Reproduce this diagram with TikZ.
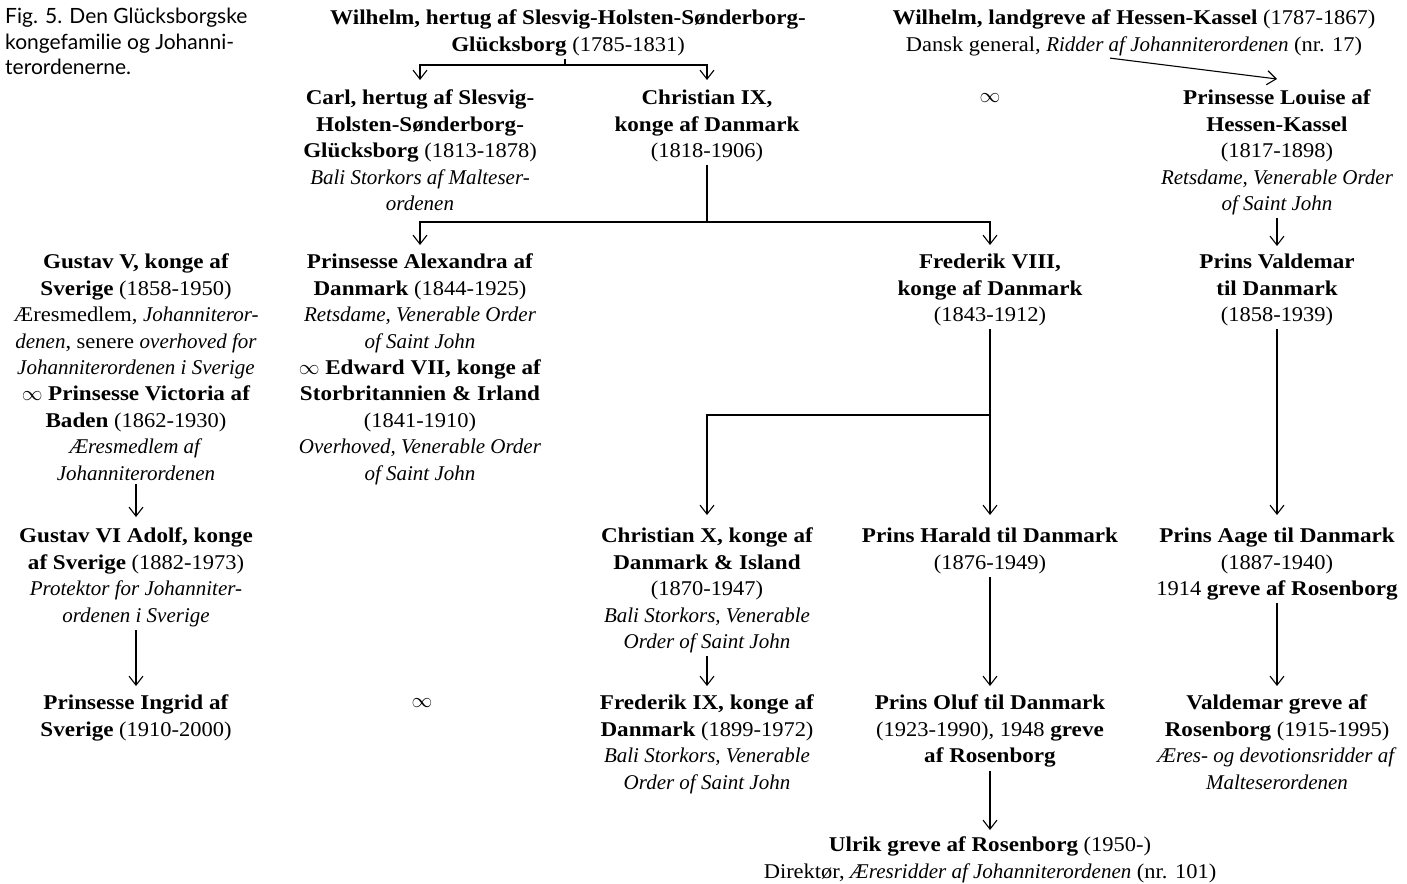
\documentclass[tikz,border=0pt]{standalone}
\usepackage{fontspec}
\setmainfont{Liberation Serif}[UprightFeatures={FakeStretch=1.07}, BoldFeatures={FakeStretch=1.1}]
\newfontfamily\capfont{Lato}
\usetikzlibrary{arrows.meta}
\begin{document}
\begin{tikzpicture}[x=1pt,y=-1pt,
  person/.style={align=center, inner sep=0pt, anchor=north, font=\fontsize{21}{26.4}\selectfont},
  caption/.style={align=left, inner sep=0pt, anchor=north west, font=\capfont\fontsize{21}{25.5}\selectfont},
  link/.style={line width=1.1pt, shorten <=3pt},
  arr/.style={line width=1.1pt, -{Straight Barb[length=9pt,width=14pt,line width=1.1pt]}, shorten >=9pt},
  arrs/.style={arr, shorten <=3pt},
  marr/.style={font=\fontsize{21}{26.4}\selectfont, inner sep=0pt},
]
\useasboundingbox (0,0) rectangle (1407,883);

\node[caption] (cap) at (5,8) {Fig. 5. Den Glücksborgske\\kongefamilie og Johanni-\\terordenerne.};

\node[person] (W1) at (568,10) {\textbf{Wilhelm, hertug af Slesvig-Holsten-Sønderborg-}\\\textbf{Glücksborg} (1785-1831)};
\node[person] (W2) at (1134,10) {\textbf{Wilhelm, landgreve af Hessen-Kassel} (1787-1867)\\Dansk general, \textit{Ridder af Johanniterordenen} (nr. 17)};

\node[person] (Carl) at (420,90) {\textbf{Carl, hertug af Slesvig-}\\\textbf{Holsten-Sønderborg-}\\\textbf{Glücksborg} (1813-1878)\\\textit{Bali Storkors af Malteser-}\\\textit{ordenen}};
\node[person] (C9) at (707,90) {\textbf{Christian IX,}\\\textbf{konge af Danmark}\\(1818-1906)};
\node[marr] (m1) at (990,98) {$\infty$};
\node[person] (Louise) at (1277,90) {\textbf{Prinsesse Louise af}\\\textbf{Hessen-Kassel}\\(1817-1898)\\\textit{Retsdame, Venerable Order}\\\textit{of Saint John}};

\node[person] (G5) at (136,254) {\textbf{Gustav V, konge af}\\\textbf{Sverige} (1858-1950)\\Æresmedlem, \textit{Johanniteror-}\\\textit{denen}, senere \textit{overhoved for}\\\textit{Johanniterordenen i Sverige}\\$\infty$ \textbf{Prinsesse Victoria af}\\\textbf{Baden} (1862-1930)\\\textit{Æresmedlem af}\\\textit{Johanniterordenen}};
\node[person] (Alex) at (420,254) {\textbf{Prinsesse Alexandra af}\\\textbf{Danmark} (1844-1925)\\\textit{Retsdame, Venerable Order}\\\textit{of Saint John}\\$\infty$ \textbf{Edward VII, konge af}\\\textbf{Storbritannien \& Irland}\\(1841-1910)\\\textit{Overhoved, Venerable Order}\\\textit{of Saint John}};
\node[person] (F8) at (990,254) {\textbf{Frederik VIII,}\\\textbf{konge af Danmark}\\(1843-1912)};
\node[person] (Vald) at (1277,254) {\textbf{Prins Valdemar}\\\textbf{til Danmark}\\(1858-1939)};

\node[person] (G6) at (136,528) {\textbf{Gustav VI Adolf, konge}\\\textbf{af Sverige} (1882-1973)\\\textit{Protektor for Johanniter-}\\\textit{ordenen i Sverige}};
\node[person] (C10) at (707,528) {\textbf{Christian X, konge af}\\\textbf{Danmark \& Island}\\(1870-1947)\\\textit{Bali Storkors, Venerable}\\\textit{Order of Saint John}};
\node[person] (Harald) at (990,528) {\textbf{Prins Harald til Danmark}\\(1876-1949)};
\node[person] (Aage) at (1277,528) {\textbf{Prins Aage til Danmark}\\(1887-1940)\\1914 \textbf{greve af Rosenborg}};

\node[person] (Ingrid) at (136,695) {\textbf{Prinsesse Ingrid af}\\\textbf{Sverige} (1910-2000)};
\node[marr] (m2) at (422,703) {$\infty$};
\node[person] (F9) at (707,695) {\textbf{Frederik IX, konge af}\\\textbf{Danmark} (1899-1972)\\\textit{Bali Storkors, Venerable}\\\textit{Order of Saint John}};
\node[person] (Oluf) at (990,695) {\textbf{Prins Oluf til Danmark}\\(1923-1990), 1948 \textbf{greve}\\\textbf{af Rosenborg}};
\node[person] (VG) at (1277,695) {\textbf{Valdemar greve af}\\\textbf{Rosenborg} (1915-1995)\\\textit{Æres- og devotionsridder af}\\\textit{Malteserordenen}};

\node[person] (Ulrik) at (990,837) {\textbf{Ulrik greve af Rosenborg} (1950-)\\Direktør, \textit{Æresridder af Johanniterordenen} (nr. 101)};

% connectors
\coordinate (j1) at (565,65);
\draw[link] (W1.south -| j1) -- (j1);
\draw[arr, shorten >=10pt] (j1) -| (Carl.north);
\draw[arr, shorten >=10pt] (j1) -| (C9.north);

\draw[arr, shorten >=0pt] ([xshift=-24pt,yshift=-2pt]W2.south) -- ([yshift=11pt]Louise.north);

\coordinate (j2) at (707,222);
\draw[link] (C9.south) -- (j2);
\draw[arr] (j2) -| (Alex.north);
\draw[arr] (j2) -| (F8.north);

\draw[arrs, shorten >=8pt] (Louise.south) -- (Vald.north);
\draw[arrs, shorten >=13pt] (Vald.south) -- (Aage.north);

\coordinate (j3) at (990,415);
\draw[link] (F8.south) -- (j3);
\draw[arr, shorten >=13pt] (j3) -| (C10.north);
\draw[arr, shorten >=13pt] (j3) -- (Harald.north);

\draw[arrs, shorten >=11pt] (G5.south) -- (G6.north);
\draw[arrs] (G6.south) -- (Ingrid.north);
\draw[arrs] (C10.south) -- (F9.north);
\draw[arrs] (Harald.south) -- (Oluf.north);
\draw[arrs] (Aage.south) -- (VG.north);
\draw[arrs, shorten >=7pt] (Oluf.south) -- (Ulrik.north);
\end{tikzpicture}
\end{document}
